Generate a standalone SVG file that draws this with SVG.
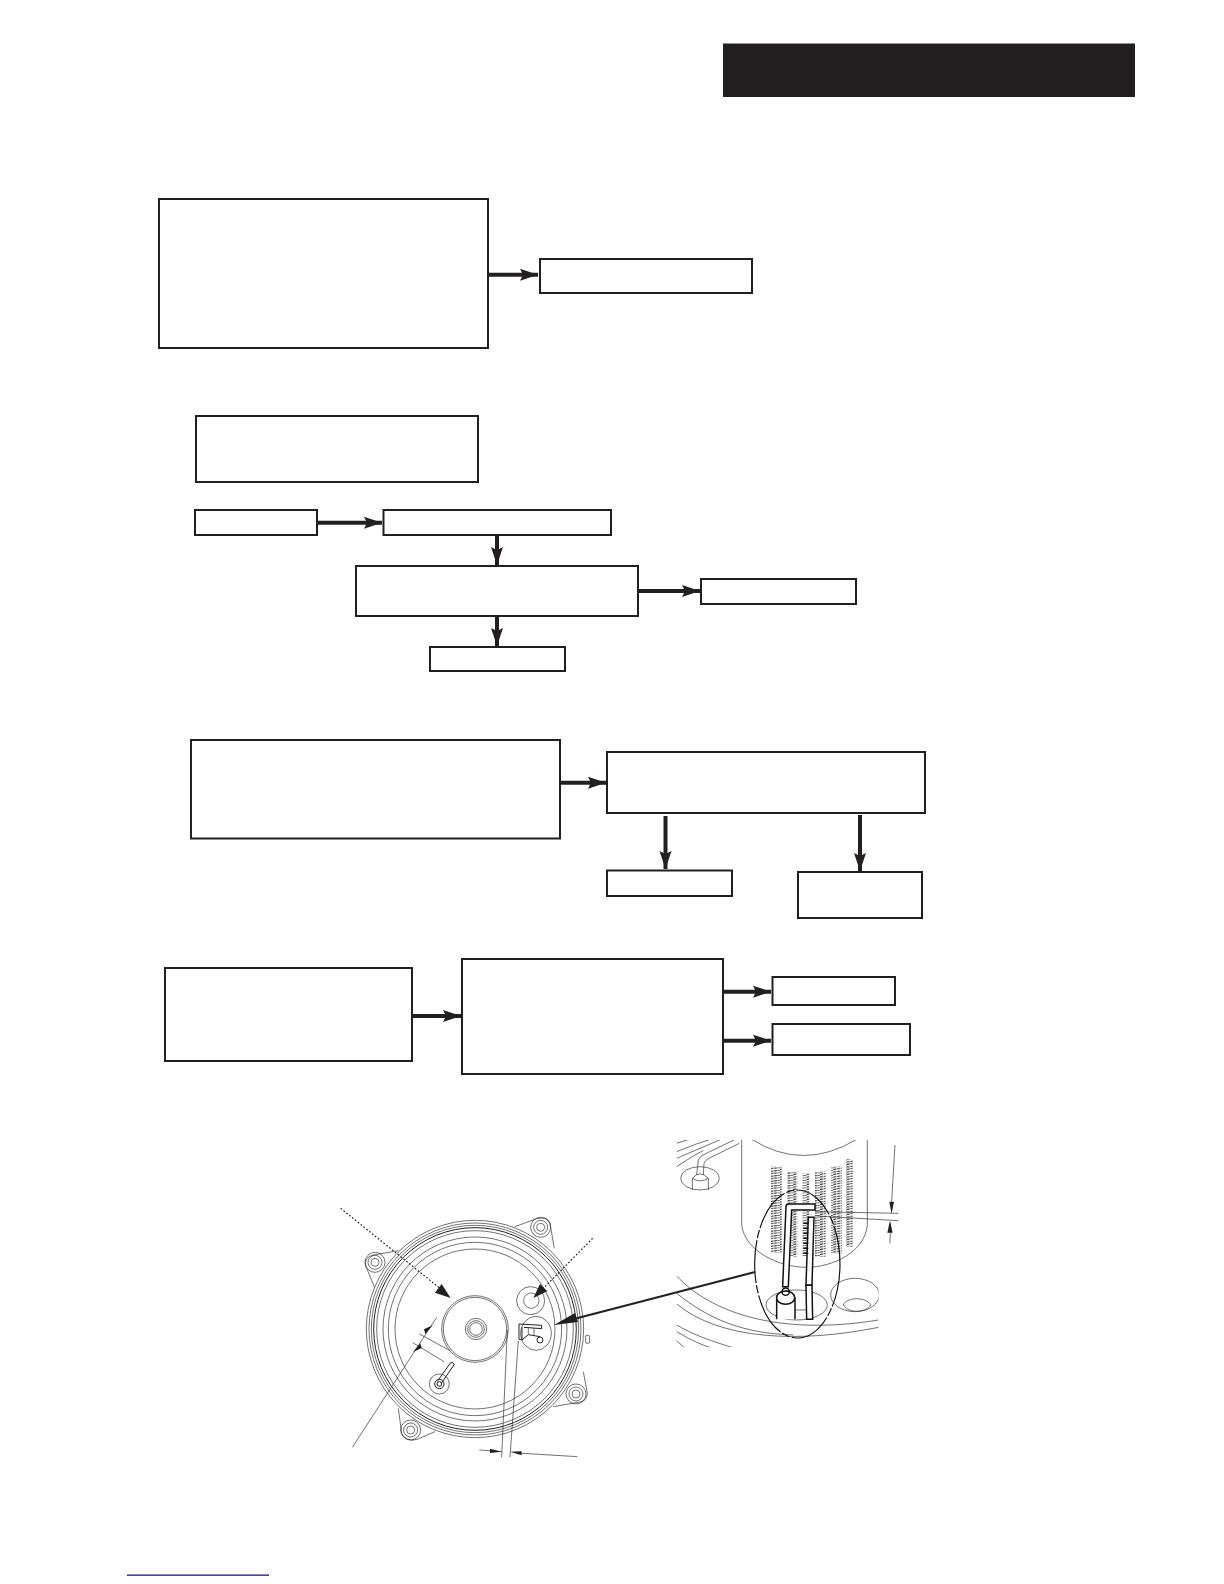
<svg xmlns="http://www.w3.org/2000/svg" width="1224" height="1584" viewBox="0 0 1224 1584">
<style>
.box{fill:#fff;stroke:#231f20;stroke-width:2}
.conn{fill:none;stroke:#231f20;stroke-width:4;marker-end:url(#ah)}
.t{fill:none;stroke:#231f20;stroke-width:1.9}
.th{fill:none;stroke:#231f20;stroke-width:3}
.b{fill:none;stroke:#111;stroke-width:4.500}
.w{fill:#fff;stroke:#111;stroke-width:4.500}
.k{fill:#231f20;stroke:none}
.dot{fill:none;stroke:#231f20;stroke-width:3.600;stroke-dasharray:5 6}
</style>
<defs>
<marker id="ah" markerUnits="userSpaceOnUse" markerWidth="20" markerHeight="16" refX="18" refY="8" orient="auto">
<path d="M0 2 L18 8 L0 14 L3 8Z" fill="#231f20"/>
</marker>
<pattern id="hatch" patternUnits="userSpaceOnUse" width="40" height="7.500">
<path d="M0 6 L40 0" stroke="#231f20" stroke-width="3" fill="none" stroke-dasharray="9 2"/>
</pattern>
<clipPath id="detail"><rect x="50" y="30" width="606" height="622"/></clipPath>
</defs>
<rect width="1224" height="1584" fill="#fff"/>
<rect id="header" x="723" y="43.500" width="412" height="53.500" fill="#231f20"/>
<g id="n1"><rect class="box" x="159" y="199" width="329" height="149"/></g>
<g id="n2"><rect class="box" x="540" y="259" width="212" height="34"/></g>
<g id="n3"><rect class="box" x="196" y="416" width="282" height="66"/></g>
<g id="n4"><rect class="box" x="195" y="510" width="122" height="25"/></g>
<g id="n5"><rect class="box" x="383.500" y="510" width="227.500" height="25"/></g>
<g id="n6"><rect class="box" x="356" y="566" width="282" height="50"/></g>
<g id="n7"><rect class="box" x="701" y="579" width="155" height="25"/></g>
<g id="n8"><rect class="box" x="430" y="647" width="135" height="24"/></g>
<g id="n9"><rect class="box" x="191" y="740" width="369" height="98.500"/></g>
<g id="n10"><rect class="box" x="607" y="752" width="318" height="61"/></g>
<g id="n11"><rect class="box" x="607" y="870.500" width="125" height="25.500"/></g>
<g id="n12"><rect class="box" x="798" y="872" width="124" height="46"/></g>
<g id="n13"><rect class="box" x="165" y="968" width="247" height="93"/></g>
<g id="n14"><rect class="box" x="462" y="959" width="261" height="115"/></g>
<g id="n15"><rect class="box" x="772.500" y="977" width="122.500" height="28"/></g>
<g id="n16"><rect class="box" x="772.500" y="1024" width="137.500" height="31"/></g>
<g id="connectors">
<path class="conn" d="M489 274.700H538"/>
<path class="conn" d="M318 522.700H382"/>
<path class="conn" d="M497 536V565"/>
<path class="conn" d="M639 591H700"/>
<path class="conn" d="M497 616.500V646"/>
<path class="conn" d="M561 782.700H606"/>
<path class="conn" d="M665.500 816V869"/>
<path class="conn" d="M860 815V871"/>
<path class="conn" d="M413 1016H461"/>
<path class="conn" d="M724 991.700H771"/>
<path class="conn" d="M724 1040.700H771"/>
</g>
<g id="disk" transform="translate(320 1180) scale(.3333)">
<path class="t" d="M585 140 L650 116 Q685 108 690 130 L703 205"/>
<path class="t" d="M235 212 L160 225 Q130 232 138 260 L165 325"/>
<path class="t" d="M790 575 L802 640 Q802 665 775 667 L700 680"/>
<path class="t" d="M235 685 L245 760 Q258 788 292 778 L345 755"/>
<circle class="t" cx="662" cy="142" r="30"/><circle class="t" cx="662" cy="142" r="21"/><circle class="t" cx="662" cy="142" r="12"/>
<circle class="t" cx="165" cy="247" r="30"/><circle class="t" cx="165" cy="247" r="21"/><circle class="t" cx="165" cy="247" r="12"/>
<circle class="t" cx="768" cy="642" r="30"/><circle class="t" cx="768" cy="642" r="21"/><circle class="t" cx="768" cy="642" r="12"/>
<circle class="t" cx="272" cy="750" r="30"/><circle class="t" cx="272" cy="750" r="21"/><circle class="t" cx="272" cy="750" r="12"/>
<rect class="t" x="797" y="466" width="12" height="24" rx="4"/>
<circle cx="465" cy="447" r="326" fill="#fff" stroke="#231f20" stroke-width="1.900"/>
<circle class="t" cx="465" cy="447" r="318"/>
<circle class="t" cx="465" cy="447" r="311"/>
<circle class="th" cx="465" cy="447" r="304"/>
<circle class="t" cx="465" cy="447" r="295"/>
<circle class="t" cx="465" cy="447" r="276"/>
<circle class="t" cx="465" cy="447" r="260"/>
<circle class="t" cx="465" cy="447" r="240"/>
<circle class="t" cx="465" cy="447" r="100"/>
<circle class="t" cx="465" cy="447" r="95"/>
<circle class="t" cx="468" cy="447" r="32"/>
<circle class="t" cx="468" cy="447" r="25"/>
<circle class="t" cx="468" cy="447" r="19"/>
<circle class="t" cx="632" cy="362" r="42"/>
<circle class="t" cx="634" cy="362" r="23"/>
<ellipse class="t" cx="648" cy="460" rx="46" ry="51"/>
<path class="th" d="M597 432L665 436L665 446L612 442M597 432V478L606 480V442M606 480L625 464L660 470"/>
<path class="t" d="M625 442V464M642 444V466"/>
<circle cx="660" cy="480" r="9" class="th"/>
<circle class="t" cx="358" cy="612" r="30"/>
<circle class="th" cx="358" cy="612" r="14"/>
<circle class="th" cx="358" cy="612" r="7"/>
<path class="th" d="M352 604L392 548Q400 546 403 553L364 610"/>
<path class="t" d="M298 462L390 512M278 488L372 545"/>
<path class="t" d="M97 802L350 412"/>
<path class="k" d="M338 436L316 462L312 448Z"/>
<path class="k" d="M279 516L301 490L305 504Z"/>
<path class="t" d="M562 450L545 832M595 482L570 832"/>
<path class="t" d="M478 810L545 815M605 820L772 830"/>
<path class="k" d="M510 806L545 815L510 819Z"/>
<path class="k" d="M605 814L570 815L605 826Z"/>
<path class="dot" d="M62 85L360 325"/>
<path class="k" d="M392 354L345 338L365 312Z"/>
<path class="dot" d="M818 175L670 325"/>
<path class="k" d="M640 354L660 312L682 334Z"/>
</g>
<g id="detail-view" transform="translate(660 1130) scale(.3333)">
<g clip-path="url(#detail)">
<path class="t" d="M50 40Q80 30 100 25M50 65Q110 40 160 25M50 85Q120 55 190 25M50 110Q110 70 130 62"/>
<path class="t" d="M110 135L115 90Q120 78 135 72L222 30M130 135L132 100Q135 92 145 86L238 40"/>
<ellipse class="t" cx="120" cy="145" rx="58" ry="35"/>
<path class="t" d="M97 180V145Q120 118 145 145V180M97 145Q120 160 145 145"/>
<path class="t" d="M245 20V285C255 365 360 412 438 412C520 412 615 365 622 285V20"/>
<path class="t" d="M275 28Q430 125 590 28"/>
<rect x="333" y="110" width="32" height="258" fill="url(#hatch)"/>
<rect x="382" y="125" width="30" height="255" fill="url(#hatch)"/>
<rect x="428" y="130" width="20" height="250" fill="url(#hatch)"/>
<rect x="465" y="125" width="32" height="255" fill="url(#hatch)"/>
<rect x="513" y="110" width="32" height="260" fill="url(#hatch)"/>
<rect x="558" y="88" width="20" height="262" fill="url(#hatch)"/>
<path class="t" d="M50 438C150 545 350 620 656 570"/>
<path class="t" d="M50 490C150 570 250 610 400 615"/>
<path class="t" d="M50 522C180 630 420 640 656 592"/>
<path class="t" d="M50 585C100 615 160 635 215 652M50 605C85 625 110 640 150 652M50 632L72 652"/>
<ellipse class="t" cx="410" cy="525" rx="92" ry="45"/>
<ellipse class="t" cx="585" cy="495" rx="73" ry="50"/>
<path class="t" d="M550 525C560 500 620 500 632 525C620 548 565 552 550 525Z"/>
<path class="w" d="M350 568V505H405V568"/>
<ellipse class="w" cx="377" cy="503" rx="27" ry="20"/>
<circle class="b" cx="377" cy="485" r="11"/>
<path class="t" d="M405 540H440"/>
<path class="w" d="M368 470L378 230Q378 222 386 222H465V240H395L385 470Z"/>
<path class="w" d="M445 262H462L456 466H438Z"/>
<path class="w" d="M438 466H456L458 568H440Z"/>
<path class="b" d="M430 280H445M430 295H445M430 310H445M430 325H445M430 340H445M430 355H445M430 370H445" stroke-width="4"/>
<ellipse cx="412" cy="402" rx="128" ry="222" fill="none" stroke="#111" stroke-width="3.500" stroke-dasharray="130 6 25 6"/>
</g>
<path class="t" d="M705 45L695 215M692 280L690 340"/>
<path class="t" d="M465 245L715 250M470 258L715 272"/>
<path class="k" d="M688 215H702L695 252Z"/>
<path class="k" d="M682 308H698L690 272Z"/>
</g>
<path d="M755 1272L570 1320" fill="none" stroke="#231f20" stroke-width="2"/>
<path class="k" d="M554 1325L575 1313L578 1322Z"/>
<rect id="footer-line" x="127" y="1574.500" width="142" height="1.300" fill="#1a1a8c"/>
</svg>
